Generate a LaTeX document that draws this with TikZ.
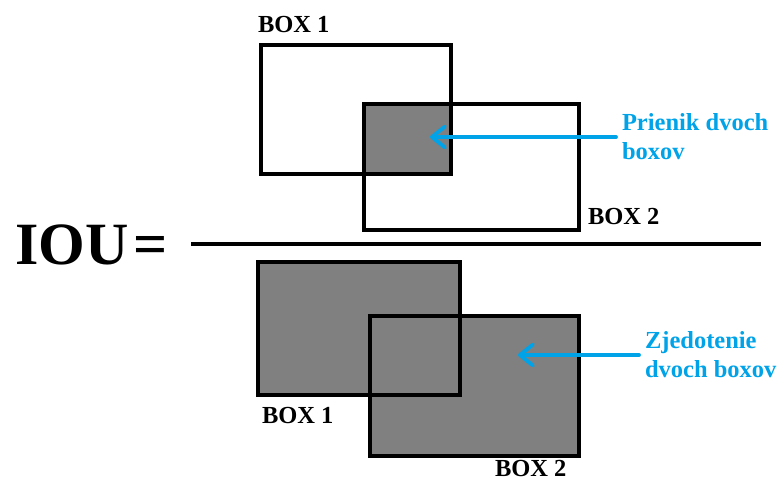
\documentclass[tikz,border=0pt]{standalone}
\usepackage{fontspec}
\setmainfont{Liberation Serif}
\usetikzlibrary{arrows.meta,backgrounds}
\definecolor{modra}{RGB}{0,163,232}
\begin{document}
\begin{tikzpicture}[x=1pt, y=-1pt, inner sep=0pt, outer sep=0pt,
  ram/.style={draw, line width=4pt, anchor=north west},
  popis/.style={font=\bfseries\fontsize{24.5}{29}\selectfont, anchor=base west},
  info/.style={font=\bfseries\fontsize{24.5}{29}\selectfont, text=modra, align=left, anchor=west, inner xsep=6pt},
  sipka/.style={draw=modra, line width=3.8pt, line cap=round, -{Straight Barb[length=13pt, width=21pt, round]}}]
\useasboundingbox (0,0) rectangle (779,486);
\node[font=\bfseries\fontsize{60}{60}\selectfont, anchor=base west] (iou) at (15,265) {IOU\kern5pt=};
\coordinate (zl) at (191,244);
\coordinate (zp) at (761,244);
\draw[line width=4pt] (zl) -- (zp);
% citatel
\node[ram, minimum width=190.5pt, minimum height=129pt] (h1) at (260.5,45.5) {};
\node[ram, minimum width=215pt, minimum height=125.6pt] (h2) at (364,104) {};
\begin{pgfonlayer}{background}
\fill[gray] (h2.north west) rectangle (h1.south east);
\end{pgfonlayer}
\node[popis] (h1t) at (258,33) {BOX 1};
\node[popis] (h2t) at (588,225) {BOX 2};
\node[info] (prienik) at (616,137) {Prienik dvoch\\boxov};
\coordinate (c1) at (430,137);
\draw[sipka] (prienik.west) -- (c1);
% menovatel
\node[ram, minimum width=202.3pt, minimum height=133.3pt] (d1) at (257.7,261.7) {};
\node[ram, minimum width=209pt, minimum height=140pt] (d2) at (370,316) {};
\begin{pgfonlayer}{background}
\fill[gray] (d1.north west) rectangle (d1.south east);
\fill[gray] (d2.north west) rectangle (d2.south east);
\end{pgfonlayer}
\node[popis] (d1t) at (262,423) {BOX 1};
\node[popis] (d2t) at (495,476) {BOX 2};
\node[info] (zjed) at (639,355) {Zjedotenie\\dvoch boxov};
\coordinate (c2) at (518,355);
\draw[sipka] (zjed.west) -- (c2);
\end{tikzpicture}
\end{document}
